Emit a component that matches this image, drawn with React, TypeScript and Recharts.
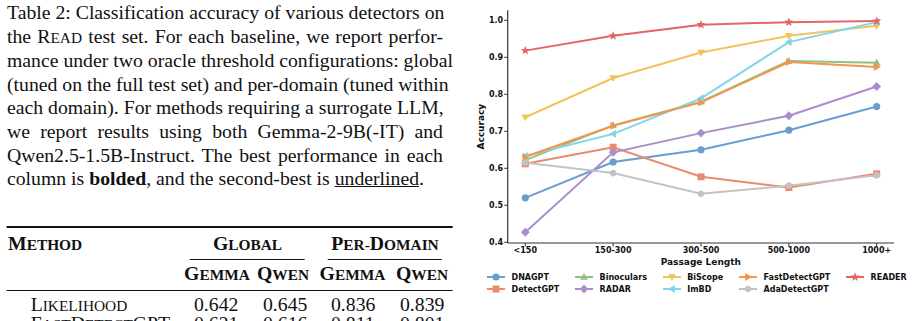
import React from "react";
import { LineChart, Line, XAxis, YAxis, Legend } from "recharts";

// passage length buckets
const categories = ["<150", "150-300", "300-500", "500-1000", "1000+"];

// accuracy per detector, one value per bucket
const dnagpt = [0.52, 0.617, 0.65, 0.703, 0.767];
const detectgpt = [0.612, 0.657, 0.577, 0.548, 0.585];
const binoculars = [0.622, 0.716, 0.78, 0.89, 0.885];
const radar = [0.427, 0.643, 0.695, 0.742, 0.821];
const biscope = [0.738, 0.844, 0.913, 0.958, 0.985];
const imbd = [0.633, 0.693, 0.789, 0.941, 0.995];
const fastdetectgpt = [0.631, 0.715, 0.778, 0.887, 0.874];
const adadetectgpt = [0.615, 0.587, 0.531, 0.553, 0.581];
const reader = [0.918, 0.958, 0.988, 0.995, 0.998];

const yTicks = [0.4, 0.5, 0.6, 0.7, 0.8, 0.9, 1.0];

// table rows: global (gemma, qwen), per-domain (gemma, qwen)
const likelihoodRow = ["0.642", "0.645", "0.836", "0.839"];
const fastRow = ["0.621", "0.616", "0.811", "0.801"];

type Shape =
  | "circle"
  | "square"
  | "triUp"
  | "diamond"
  | "triDown"
  | "triLeft"
  | "triRight"
  | "hexagon"
  | "star";

const series: { key: string; values: number[]; color: string; shape: Shape }[] = [
  { key: "DNAGPT", values: dnagpt, color: "#6a9ccf", shape: "circle" },
  { key: "DetectGPT", values: detectgpt, color: "#ea8a6e", shape: "square" },
  { key: "Binoculars", values: binoculars, color: "#8fc281", shape: "triUp" },
  { key: "RADAR", values: radar, color: "#aa8dcc", shape: "diamond" },
  { key: "BiScope", values: biscope, color: "#f1c35a", shape: "triDown" },
  { key: "ImBD", values: imbd, color: "#82d5e8", shape: "triLeft" },
  { key: "FastDetectGPT", values: fastdetectgpt, color: "#f3954c", shape: "triRight" },
  { key: "AdaDetectGPT", values: adadetectgpt, color: "#c3c3c3", shape: "hexagon" },
  { key: "READER", values: reader, color: "#e56567", shape: "star" },
];

const data = categories.map((cat, i) => {
  const row: Record<string, string | number> = { cat };
  series.forEach((s) => {
    row[s.key] = s.values[i];
  });
  return row;
});

const poly = (cx: number, cy: number, r: number, n: number, rot: number) =>
  Array.from({ length: n }, (_, i) => {
    const a = rot + (i * 2 * Math.PI) / n;
    return `${cx + r * Math.cos(a)},${cy + r * Math.sin(a)}`;
  }).join(" ");

const starPoints = (cx: number, cy: number, ro: number, ri: number) =>
  Array.from({ length: 10 }, (_, i) => {
    const r = i % 2 === 0 ? ro : ri;
    const a = -Math.PI / 2 + (i * Math.PI) / 5;
    return `${cx + r * Math.cos(a)},${cy + r * Math.sin(a)}`;
  }).join(" ");

const Marker = ({ cx, cy, shape, color }: { cx: number; cy: number; shape: Shape; color: string }) => {
  switch (shape) {
    case "circle":
      return <circle cx={cx} cy={cy} r={3.6} fill={color} />;
    case "square":
      return <rect x={cx - 3.5} y={cy - 3.5} width={7} height={7} fill={color} />;
    case "triUp":
      return <polygon points={poly(cx, cy + 0.5, 4.6, 3, -Math.PI / 2)} fill={color} />;
    case "triDown":
      return <polygon points={poly(cx, cy - 0.5, 4.6, 3, Math.PI / 2)} fill={color} />;
    case "triLeft":
      return <polygon points={poly(cx + 0.5, cy, 4.6, 3, Math.PI)} fill={color} />;
    case "triRight":
      return <polygon points={poly(cx - 0.5, cy, 4.6, 3, 0)} fill={color} />;
    case "diamond":
      return <polygon points={poly(cx, cy, 4.4, 4, 0)} fill={color} />;
    case "hexagon":
      return <polygon points={poly(cx, cy, 3.6, 6, -Math.PI / 2)} fill={color} />;
    case "star":
      return <polygon points={starPoints(cx, cy, 4.8, 2)} fill={color} />;
  }
};

const dotRenderer = (name: string, shape: Shape, color: string) => (props: any) => (
  <g key={`${name}-${props.index}`}>
    {props.cx != null && props.cy != null && (
      <Marker cx={props.cx} cy={props.cy} shape={shape} color={color} />
    )}
  </g>
);

const sans = "'DejaVu Sans', sans-serif";

const LegendBox = () => (
  <div
    style={{
      display: "grid",
      gridTemplateRows: "repeat(2, 12px)",
      gridAutoFlow: "column",
      columnGap: 15.5,
      fontFamily: sans,
      fontSize: 8,
      fontWeight: 700,
      color: "#111",
    }}
  >
    {series.map((s) => (
      <div key={s.key} style={{ display: "flex", alignItems: "center", whiteSpace: "nowrap" }}>
        <svg width={18} height={12} style={{ marginRight: 6.5 }}>
          <line x1={0} y1={6} x2={18} y2={6} stroke={s.color} strokeWidth={2} />
          <Marker cx={9} cy={6} shape={s.shape} color={s.color} />
        </svg>
        <span>{s.key}</span>
      </div>
    ))}
  </div>
);

const AccuracyChart = () => (
  <LineChart
    width={460}
    height={321}
    data={data}
    margin={{ top: 10.3, right: 26, bottom: 56, left: 0 }}
  >
    <XAxis
      dataKey="cat"
      padding={{ left: 17.6, right: 17.3 }}
      height={22}
      tickSize={3.5}
      tickMargin={0.5}
      axisLine={{ stroke: "#333", strokeWidth: 1.2 }}
      tickLine={{ stroke: "#333" }}
      tick={{ fontSize: 8, fontWeight: 700, fill: "#111", fontFamily: sans }}
      label={{
        value: "Passage Length",
        position: "insideBottom",
        offset: 0.5,
        style: { fontSize: 9, fontWeight: 700, fill: "#111", fontFamily: sans },
      }}
    />
    <YAxis
      type="number"
      domain={[0.398, 1.027]}
      ticks={yTicks}
      allowDataOverflow
      width={47.7}
      tickSize={3.5}
      tickMargin={1}
      tickFormatter={(v: number) => v.toFixed(1)}
      axisLine={{ stroke: "#333", strokeWidth: 1.2 }}
      tickLine={{ stroke: "#333" }}
      tick={{ fontSize: 8, fontWeight: 700, fill: "#111", fontFamily: sans }}
      label={{
        value: "Accuracy",
        angle: -90,
        position: "insideLeft",
        offset: 21,
        style: { fontSize: 9, fontWeight: 700, fill: "#111", fontFamily: sans, textAnchor: "middle" },
      }}
    />
    <Legend
      layout="horizontal"
      verticalAlign="middle"
      align="center"
      wrapperStyle={{ left: 27, top: 271.3, width: 420, height: 24 }}
      content={() => <LegendBox />}
    />
    {series.map((s) => (
      <Line
        key={s.key}
        dataKey={s.key}
        stroke={s.color}
        strokeWidth={2}
        type="linear"
        dot={dotRenderer(s.key, s.shape, s.color)}
        activeDot={false}
        isAnimationActive={false}
      />
    ))}
  </LineChart>
);

const serif = "'Liberation Serif', 'Times New Roman', serif";

// the caption block is typeset slightly wide
const STRETCH = 1.096;
const sx = (x: number) => x / STRETCH;

// small caps with a full-size initial and reduced capitals after it
const SmallCaps = ({ text }: { text: string }) => (
  <>
    {text.split(/(?=[A-Z])/).map((part, i) => (
      <React.Fragment key={i}>
        {part[0]}
        <span style={{ fontSize: "0.78em" }}>{part.slice(1).toUpperCase()}</span>
      </React.Fragment>
    ))}
  </>
);

const captionLines: React.ReactNode[] = [
  "Table 2: Classification accuracy of various detectors on",
  <>
    the <SmallCaps text="Read" /> test set. For each baseline, we report perfor-
  </>,
  "mance under two oracle threshold configurations: global",
  "(tuned on the full test set) and per-domain (tuned within",
  "each domain). For methods requiring a surrogate LLM,",
  "we report results using both Gemma-2-9B(-IT) and",
  "Qwen2.5-1.5B-Instruct. The best performance in each",
];

const abs: React.CSSProperties = { position: "absolute", whiteSpace: "nowrap", lineHeight: "12px" };
const head: React.CSSProperties = { ...abs, fontWeight: 700 };

const Rule = ({ x1, x2, y, h }: { x1: number; x2: number; y: number; h: number }) => (
  <div style={{ position: "absolute", left: sx(x1), top: y, width: sx(x2 - x1), height: h, background: "#111" }} />
);

const Centered = ({ cx, top, children }: { cx: number; top: number; children: React.ReactNode }) => (
  <span style={{ ...head, left: sx(cx), top, transform: "translateX(-50%)" }}>{children}</span>
);

const valueCols = [194, 263, 331, 400];

const TablePart = () => (
  <div
    style={{
      position: "absolute",
      left: 0,
      top: 0,
      width: sx(460),
      height: 321,
      fontFamily: serif,
      fontSize: 18,
      color: "#111",
      transform: `scaleX(${STRETCH})`,
      transformOrigin: "0 0",
    }}
  >
    <div style={{ position: "absolute", left: sx(7), top: 2.1, width: sx(436), lineHeight: "23.6px" }}>
      {captionLines.map((l, i) => (
        <div key={i} style={{ textAlign: "justify", textAlignLast: "justify", whiteSpace: "nowrap" }}>
          {l}
        </div>
      ))}
      <div>
        column is <b>bolded</b>, and the second-best is <u>underlined</u>.
      </div>
    </div>

    <Rule x1={7} x2={453} y={226} h={1.6} />
    <span style={{ ...head, left: sx(8), top: 238.4 }}>
      <SmallCaps text="Method" />
    </span>
    <Centered cx={247.5} top={238.4}>
      <SmallCaps text="Global" />
    </Centered>
    <Centered cx={385} top={238.4}>
      <SmallCaps text="Per-Domain" />
    </Centered>
    <Rule x1={190} x2={305} y={258.5} h={1} />
    <Rule x1={328} x2={442} y={258.5} h={1} />
    <Centered cx={217} top={267.9}>
      <SmallCaps text="Gemma" />
    </Centered>
    <Centered cx={283} top={267.9}>
      <SmallCaps text="Qwen" />
    </Centered>
    <Centered cx={352.5} top={267.9}>
      <SmallCaps text="Gemma" />
    </Centered>
    <Centered cx={422} top={267.9}>
      <SmallCaps text="Qwen" />
    </Centered>
    <Rule x1={7} x2={453} y={289.5} h={1} />

    <span style={{ ...abs, left: sx(30.7), top: 298.9 }}>
      <SmallCaps text="Likelihood" />
    </span>
    {likelihoodRow.map((v, i) => (
      <span key={`l${i}`} style={{ ...abs, left: sx(valueCols[i]), top: 298.9 }}>
        {v}
      </span>
    ))}

    <span style={{ ...abs, left: sx(30.7), top: 318.4 }}>
      <SmallCaps text="FastDetectGPT" />
    </span>
    {fastRow.map((v, i) => (
      <span key={`f${i}`} style={{ ...abs, left: sx(valueCols[i]), top: 318.4 }}>
        {v}
      </span>
    ))}
  </div>
);

export default function App() {
  return (
    <div
      style={{
        position: "absolute",
        left: 0,
        top: 0,
        width: 920,
        height: 321,
        overflow: "hidden",
        background: "#fff",
      }}
    >
      <TablePart />
      <div style={{ position: "absolute", left: 460, top: 0 }}>
        <AccuracyChart />
      </div>
    </div>
  );
}
